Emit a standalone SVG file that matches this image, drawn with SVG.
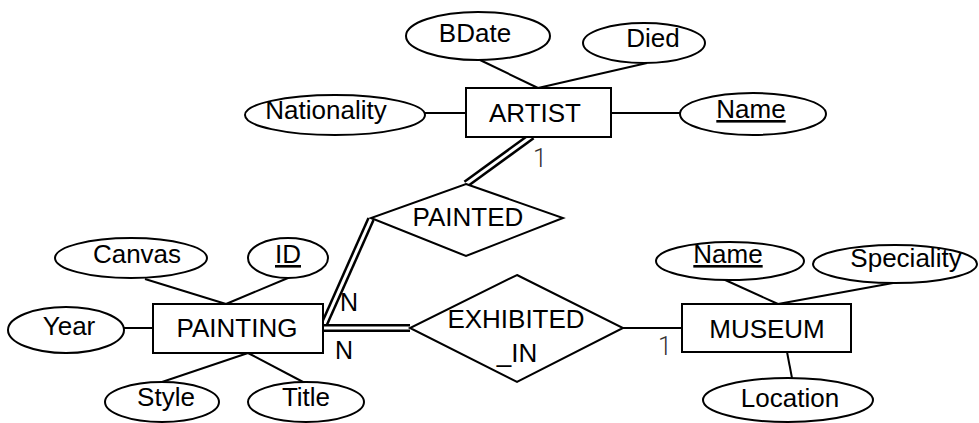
<svg xmlns="http://www.w3.org/2000/svg" width="979" height="423" viewBox="0 0 979 423">
<style>
.s{fill:#fff;stroke:#000;stroke-width:2}
.l{stroke:#000;stroke-width:2;fill:none}
.dbo{stroke:#000;stroke-width:8;fill:none}
.dbi{stroke:#fff;stroke-width:3;fill:none}
text{font-family:"Liberation Sans",Arial,sans-serif;font-size:26px;fill:#000;text-anchor:middle}
.u{text-decoration:underline}
.c{font-size:25px;text-anchor:start}
.one{font-family:Roboto,"Liberation Sans",sans-serif;font-weight:300;font-size:25px;fill:#333;text-anchor:middle}
</style>
<rect width="979" height="423" fill="#fff"/>
<g id="connectors">
<line class="l" x1="480" y1="60" x2="538" y2="88"/>
<line class="l" x1="647" y1="63" x2="538" y2="88"/>
<line class="l" x1="425" y1="113" x2="466" y2="113"/>
<line class="l" x1="611" y1="113" x2="680" y2="113"/>
<line class="l" x1="145" y1="279" x2="226" y2="304"/>
<line class="l" x1="288" y1="278" x2="226" y2="304"/>
<line class="l" x1="123" y1="328" x2="153" y2="328"/>
<line class="l" x1="162" y1="382" x2="248" y2="353"/>
<line class="l" x1="305" y1="383" x2="248" y2="353"/>
<line class="l" x1="723" y1="279" x2="778" y2="304"/>
<line class="l" x1="893" y1="283" x2="778" y2="304"/>
<line class="l" x1="787" y1="352" x2="792" y2="378"/>
<line class="l" x1="623" y1="328" x2="682" y2="328"/>
<line class="dbo" x1="532" y1="136" x2="466" y2="184"/>
<line class="dbi" x1="532" y1="136" x2="466" y2="184"/>
<line class="dbo" x1="371" y1="219" x2="323" y2="327"/>
<line class="dbi" x1="371" y1="219" x2="323" y2="327"/>
<line class="dbo" x1="323" y1="328" x2="410" y2="328"/>
<line class="dbi" x1="323" y1="328" x2="410" y2="328"/>
<text class="one" x="540" y="167">1</text>
<text class="one" x="665" y="355">1</text>
<text class="c" x="340" y="311">N</text>
<text class="c" x="335" y="359">N</text>
</g>
<g id="artist"><rect class="s" x="466" y="88" width="145" height="49"/><text x="535" y="122">ARTIST</text></g>
<g id="bdate"><ellipse class="s" cx="478" cy="36" rx="72" ry="24"/><text x="475" y="42">BDate</text></g>
<g id="died"><ellipse class="s" cx="644" cy="43" rx="61" ry="20"/><text x="653" y="47">Died</text></g>
<g id="nationality"><ellipse class="s" cx="335" cy="115" rx="90" ry="20"/><text x="326" y="119">Nationality</text></g>
<g id="artist-name"><ellipse class="s" cx="753" cy="114" rx="73" ry="21"/><text class="u" x="751" y="118">Name</text></g>
<g id="painted"><polygon class="s" points="466,184 563,218 466,256 371,218"/><text x="468" y="226">PAINTED</text></g>
<g id="painting"><rect class="s" x="153" y="304" width="170" height="49"/><text x="237" y="337">PAINTING</text></g>
<g id="canvas"><ellipse class="s" cx="131" cy="258" rx="76" ry="20"/><text x="137" y="263">Canvas</text></g>
<g id="id"><ellipse class="s" cx="288" cy="258" rx="40" ry="20"/><text class="u" x="288" y="263">ID</text></g>
<g id="year"><ellipse class="s" cx="66" cy="330" rx="58" ry="23"/><text x="69" y="335">Year</text></g>
<g id="style"><ellipse class="s" cx="162" cy="402" rx="57" ry="20"/><text x="166" y="406">Style</text></g>
<g id="title"><ellipse class="s" cx="306" cy="402" rx="58" ry="20"/><text x="306" y="406">Title</text></g>
<g id="exhibited-in"><polygon class="s" points="517,275 623,328 517,382 410,328"/><text x="516" y="328">EXHIBITED</text><text x="517" y="362">_IN</text></g>
<g id="museum"><rect class="s" x="682" y="304" width="169" height="48"/><text x="767" y="338">MUSEUM</text></g>
<g id="museum-name"><ellipse class="s" cx="730" cy="261" rx="74" ry="19"/><text class="u" x="728" y="263">Name</text></g>
<g id="speciality"><ellipse class="s" cx="895" cy="264" rx="82" ry="19"/><text x="906" y="267">Speciality</text></g>
<g id="location"><ellipse class="s" cx="788" cy="400" rx="85" ry="22"/><text x="790" y="407">Location</text></g>
</svg>
